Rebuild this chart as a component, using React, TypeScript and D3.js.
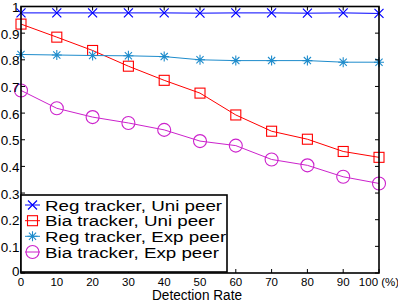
import React from "react";
import * as d3 from "d3";

const rates = [0, 10, 20, 30, 40, 50, 60, 70, 80, 90, 100];
const regUni = [0.976, 0.976, 0.976, 0.976, 0.976, 0.975, 0.976, 0.976, 0.975, 0.976, 0.974];
const biaUni = [0.934, 0.885, 0.835, 0.776, 0.723, 0.675, 0.593, 0.532, 0.502, 0.456, 0.434];
const regExp = [0.82, 0.818, 0.816, 0.815, 0.812, 0.8, 0.797, 0.797, 0.797, 0.791, 0.791];
const biaExp = [0.685, 0.618, 0.585, 0.563, 0.537, 0.495, 0.478, 0.426, 0.404, 0.361, 0.336];
const yTicks = [0, 0.1, 0.2, 0.3, 0.4, 0.5, 0.6, 0.7, 0.8, 0.9, 1];
const yTickLabels = ["0", "0.1", "0.2", "0.3", "0.4", "0.5", "0.6", "0.7", "0.8", "0.9", "1"];
const xTickLabels = ["0", "10", "20", "30", "40", "50", "60", "70", "80", "90", "100 (%)"];
const seriesNames = ["Reg tracker, Uni peer", "Bia tracker, Uni peer", "Reg tracker, Exp peer", "Bia tracker, Exp peer"];
const seriesValues = [regUni, biaUni, regExp, biaExp];
const seriesColors = ["#0000ff", "#ff0000", "#1e8ccc", "#cc22cc"];
const seriesMarkers = ["x", "square", "star", "circle"];

const W = 398, H = 304;
const L = 21, R = 379, T = 6.5, B = 273;

function Marker({ type, x, y, color }: { type: string; x: number; y: number; color: string }) {
  const s = 4.5;
  if (type === "x")
    return <path d={`M${x - s},${y - s}L${x + s},${y + s}M${x - s},${y + s}L${x + s},${y - s}`} stroke={color} strokeWidth={1.2} fill="none" />;
  if (type === "square")
    return <rect x={x - 5} y={y - 5} width={10} height={10} stroke={color} strokeWidth={1.1} fill="none" />;
  if (type === "star") {
    const d = 3.6;
    return <path d={`M${x - 5},${y}L${x + 5},${y}M${x},${y - 5}L${x},${y + 5}M${x - d},${y - d}L${x + d},${y + d}M${x - d},${y + d}L${x + d},${y - d}`} stroke={color} strokeWidth={1.1} fill="none" />;
  }
  return <circle cx={x} cy={y} r={6.5} stroke={color} strokeWidth={1.1} fill="none" />;
}

export default function App() {
  const x = d3.scaleLinear().domain([0, 100]).range([L, R]);
  const y = d3.scaleLinear().domain([0, 1]).range([B, T]);
  const line = d3.line<number>().x((_, i) => x(rates[i])).y((d) => y(d));
  const font = "Liberation Sans, Arial, sans-serif";
  const legX = 21, legY = 195, legW = 206, legH = 77;
  const rowY = [205, 220.7, 236.3, 252];

  return (
    <svg width={W} height={H} style={{ position: "absolute", left: 0, top: 0, background: "#fff" }} fontFamily={font}>
      <rect x={0} y={0} width={W} height={H} fill="#fff" />
      {seriesValues.map((vals, si) => (
        <g key={si}>
          <path d={line(vals) || ""} stroke={seriesColors[si]} strokeWidth={1} fill="none" />
          {vals.map((v, i) => (
            <Marker key={i} type={seriesMarkers[si]} x={x(rates[i])} y={y(v)} color={seriesColors[si]} />
          ))}
        </g>
      ))}
      {yTicks.map((t, i) => (
        <g key={"yt" + i}>
          <line x1={L} x2={L + 4} y1={y(t)} y2={y(t)} stroke="#000" strokeWidth={1} />
          <line x1={R} x2={R - 4} y1={y(t)} y2={y(t)} stroke="#000" strokeWidth={1} />
          <text transform={`translate(19.5,${Math.min(y(t) + 5.5, 275.5)}) scale(1.12,1)`} fontSize={12} textAnchor="end" fill="#000">
            {yTickLabels[i]}
          </text>
        </g>
      ))}
      {rates.map((r, i) => (
        <g key={"xt" + i}>
          <line x1={x(r)} x2={x(r)} y1={B} y2={B - 4} stroke="#000" strokeWidth={1} />
          <line x1={x(r)} x2={x(r)} y1={T} y2={T + 4} stroke="#000" strokeWidth={1} />
          <text x={x(r)} y={285.5} fontSize={11.5} textAnchor="middle" fill="#000">
            {xTickLabels[i]}
          </text>
        </g>
      ))}
      <rect x={L} y={T} width={R - L} height={B - T} fill="none" stroke="#000" strokeWidth={1.6} />
      <text x={197} y={300} fontSize={14} textAnchor="middle" textLength={90} lengthAdjust="spacingAndGlyphs" fill="#000">
        Detection Rate
      </text>
      <rect x={legX} y={legY} width={legW} height={legH} fill="#fff" stroke="#000" strokeWidth={1.6} />
      {seriesNames.map((n, i) => (
        <g key={"lg" + i}>
          <line x1={25} x2={40} y1={rowY[i]} y2={rowY[i]} stroke={seriesColors[i]} strokeWidth={1} />
          <Marker type={seriesMarkers[i]} x={32.5} y={rowY[i]} color={seriesColors[i]} />
          <text transform={`translate(45,${rowY[i] + 5.5}) scale(1.25,1)`} fontSize={15} fill="#000">
            {n}
          </text>
        </g>
      ))}
    </svg>
  );
}
